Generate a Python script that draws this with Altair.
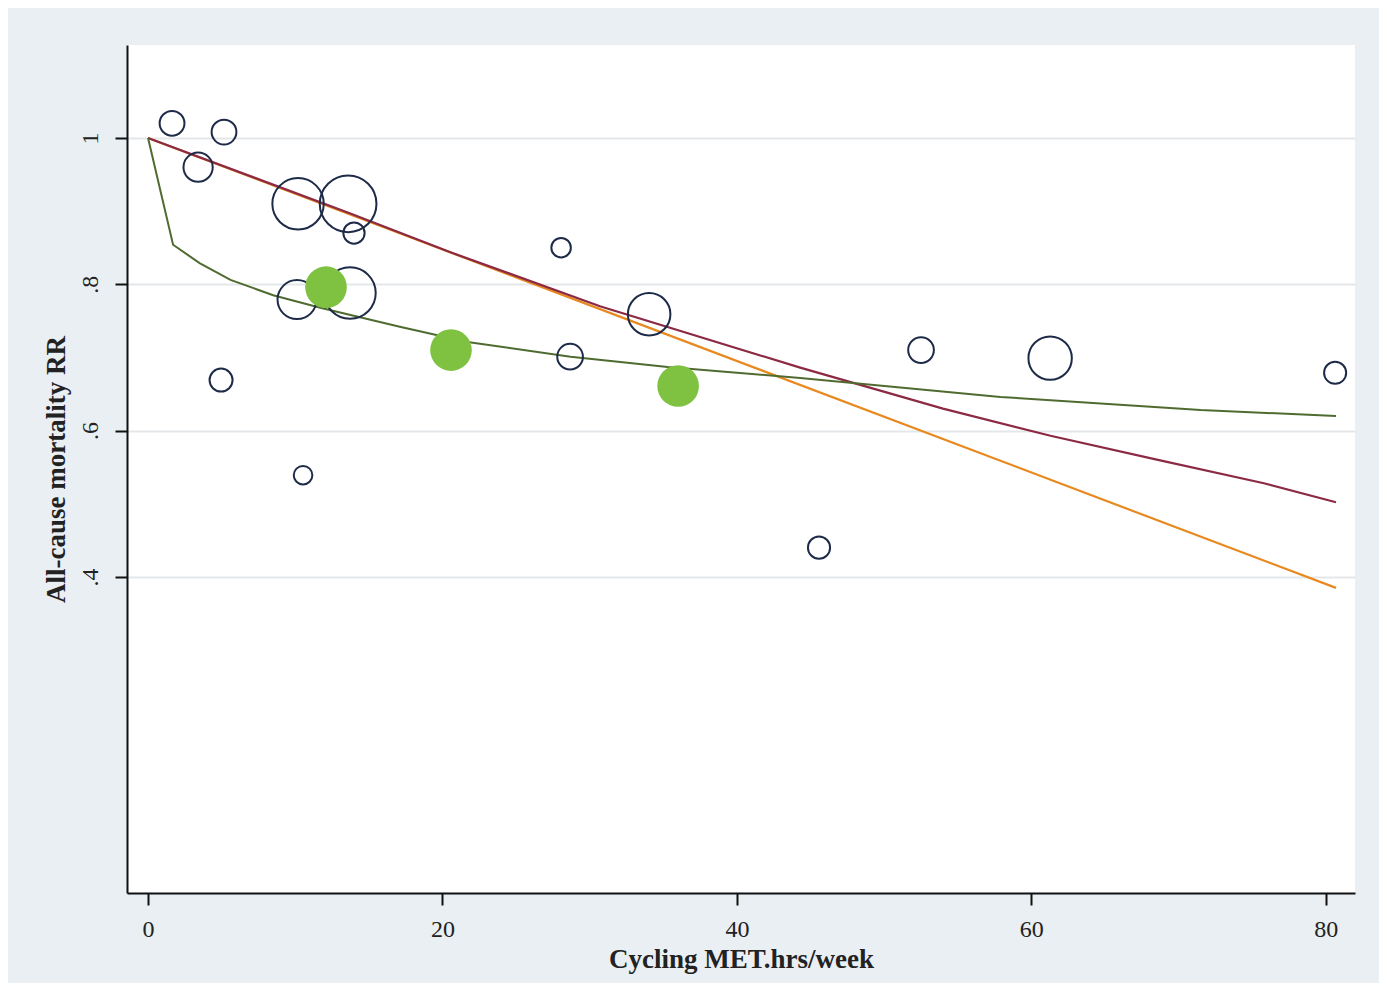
import altair as alt
import pandas as pd

# ---- data ----
study_x = [1.63, 5.16, 3.40, 10.19, 13.59, 13.99, 28.06, 10.12, 13.72, 4.96, 10.53, 28.67, 34.04, 45.58, 52.51, 61.28, 80.64]
study_rr = [1.020, 1.008, 0.960, 0.910, 0.910, 0.870, 0.850, 0.779, 0.788, 0.669, 0.539, 0.701, 0.759, 0.440, 0.710, 0.699, 0.679]
study_w = [196, 196, 272, 841, 1024, 144, 121, 484, 841, 169, 110, 210, 576, 156, 210, 600, 156]

pooled_x = [12.09, 20.58, 36.01]
pooled_rr = [0.796, 0.710, 0.661]
pooled_w = [552, 552, 552]

linear_x = [0, 80.7]
linear_rr = [1.0, 0.385]

loglin_x = [0, 13.7, 20.5, 30.7, 44.3, 54.0, 61.3, 68.6, 75.8, 80.7]
loglin_rr = [1.0, 0.897, 0.844, 0.770, 0.686, 0.630, 0.593, 0.560, 0.528, 0.502]

curve_x = [0, 1.7, 3.5, 5.6, 8.5, 11.7, 17.1, 21.7, 28.7, 35.3, 44.3, 57.9, 71.5, 80.7]
curve_rr = [1.0, 0.854, 0.829, 0.806, 0.785, 0.768, 0.742, 0.721, 0.701, 0.687, 0.672, 0.646, 0.628, 0.620]

x_ticks = [0, 20, 40, 60, 80]
y_ticks = [0.4, 0.6, 0.8, 1.0]

studies = pd.DataFrame({"x": study_x, "rr": study_rr, "w": study_w})
pooled = pd.DataFrame({"x": pooled_x, "rr": pooled_rr, "w": pooled_w})
lin = pd.DataFrame({"x": linear_x, "rr": linear_rr})
loglin = pd.DataFrame({"x": loglin_x, "rr": loglin_rr})
curve = pd.DataFrame({"x": curve_x, "rr": curve_rr})

SERIF = "Liberation Serif"

xs = alt.Scale(domain=[-1.43, 81.99], nice=False, zero=False)
ys = alt.Scale(domain=[-0.032, 1.127], nice=False, zero=False)
size_scale = alt.Scale(domain=[0, 1000], range=[0, 3141.6])

x_enc = alt.X(
    "x:Q", scale=xs,
    axis=alt.Axis(
        values=x_ticks, format="d", title="Cycling MET.hrs/week",
        grid=False, tickSize=12, tickWidth=2, tickColor="#111111",
        domainColor="#111111", domainWidth=2,
        labelFont=SERIF, labelFontSize=24, labelColor="#222222", labelPadding=12,
        titleFont=SERIF, titleFontSize=27, titleFontWeight="bold", titleColor="#222222",
        titleBaseline="alphabetic", titleY=74,
    ),
)
y_enc = alt.Y(
    "rr:Q", scale=ys,
    axis=alt.Axis(
        values=y_ticks, title="All-cause mortality RR",
        labelExpr="datum.value == 1 ? '1' : replace(format(datum.value, '.1f'), '0.', '.')",
        grid=True, gridColor="#e3e7ea", gridWidth=2,
        tickSize=12, tickWidth=2, tickColor="#111111",
        domainColor="#111111", domainWidth=2,
        labelFont=SERIF, labelFontSize=24, labelColor="#222222", labelPadding=18,
        labelAngle=270, labelAlign="center", labelBaseline="alphabetic",
        titleFont=SERIF, titleFontSize=27, titleFontWeight="bold", titleColor="#222222",
        titleAngle=270, titleAlign="center", titleBaseline="alphabetic",
        titleX=-63, titleY=424,
    ),
)

base_x = alt.X("x:Q", scale=xs)
base_y = alt.Y("rr:Q", scale=ys)

orange = alt.Chart(lin).mark_line(color="#e8891f", strokeWidth=2.2).encode(x=x_enc, y=y_enc)
maroon = alt.Chart(loglin).mark_line(color="#8c2a44", strokeWidth=2.2).encode(x=base_x, y=base_y)
green = alt.Chart(curve).mark_line(color="#4f6b30", strokeWidth=2).encode(x=base_x, y=base_y)

hollow = alt.Chart(studies).mark_point(
    shape="circle", filled=False, stroke="#1e2b48", strokeWidth=2, opacity=1
).encode(x=base_x, y=base_y, size=alt.Size("w:Q", scale=size_scale, legend=None))

dots = alt.Chart(pooled).mark_circle(color="#7fc242", opacity=1).encode(
    x=base_x, y=base_y, size=alt.Size("w:Q", scale=size_scale, legend=None)
)

chart = (
    alt.layer(orange, maroon, green, hollow, dots)
    .properties(
        width=1228, height=848,
        autosize=alt.AutoSizeParams(type="none"),
        padding={"left": 119, "top": 37, "right": 24, "bottom": 90},
        background="#e9eff2",
    )
    .configure_view(fill="white", stroke=None)
)

chart.save("out.html", embed_options={"renderer": "svg", "actions": False})
